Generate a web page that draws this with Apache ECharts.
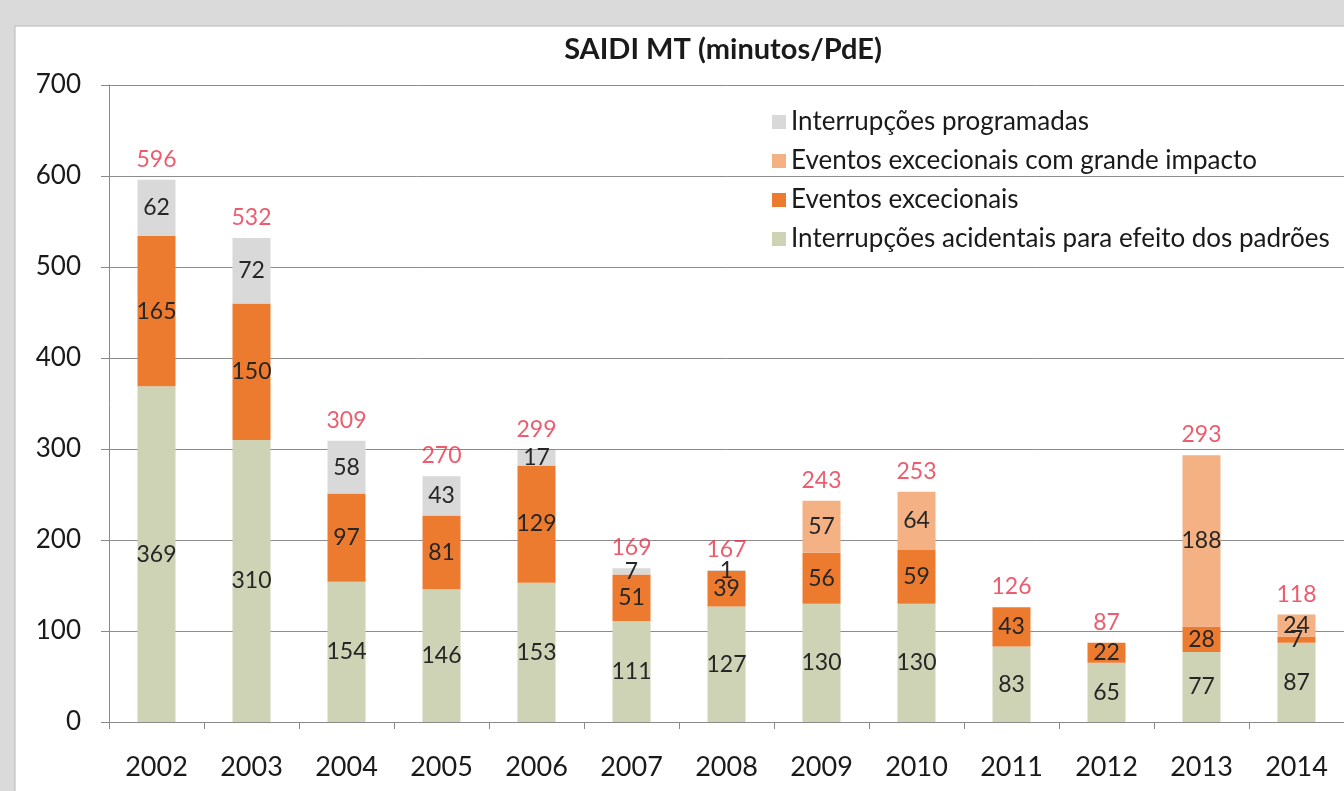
<!DOCTYPE html>
<html>
<head>
<meta charset="utf-8">
<script src="https://cdn.jsdelivr.net/npm/echarts@6/dist/echarts.min.js"></script>
<style>
html,body{margin:0;padding:0;background:#dadada;overflow:hidden;}
#c{width:1344px;height:791px;}
</style>
</head>
<body>
<div id="c"></div>
<script>
const years = ['2002','2003','2004','2005','2006','2007','2008','2009','2010','2011','2012','2013','2014'];
const acidentais = [369,310,154,146,153,111,127,130,130,83,65,77,87];
const excecionais = [165,150,97,81,129,51,39,56,59,43,22,28,7];
const grandeImpacto = [0,0,0,0,0,0,0,57,64,0,0,188,24];
const programadas = [62,72,58,43,17,7,1,0,0,0,0,0,0];
const totais = [596,532,309,270,299,169,167,243,253,126,87,293,118];
const yTicks = [0,100,200,300,400,500,600,700];

const FONT = 'Lato, "Open Sans", sans-serif';
const chart = echarts.init(document.getElementById('c'));
const lbl = {
  show: true, position: 'inside', fontSize: 23, color: '#262626', fontFamily: FONT,
  formatter: p => (p.value ? String(p.value) : '')
};
function barSeries(name, data, color) {
  return {
    name, type: 'bar', stack: 'total', data, barWidth: '40%',
    itemStyle: { color }, label: lbl, emphasis: { disabled: true }
  };
}
chart.setOption({
  animation: false,
  graphic: [{
    type: 'rect', z: -10, silent: true,
    shape: { x: 15, y: 26, width: 1345, height: 790 },
    style: { fill: '#ffffff', stroke: '#b8b8b8', lineWidth: 1 }
  }],
  title: {
    text: 'SAIDI MT (minutos/PdE)', left: 718, top: 30, textAlign: 'center',
    textStyle: { fontSize: 29, fontWeight: 'bold', color: '#1a1a1a', fontFamily: FONT }
  },
  legend: {
    data: ['Interrupções programadas', 'Eventos excecionais com grande impacto', 'Eventos excecionais', 'Interrupções acidentais para efeito dos padrões'],
    orient: 'vertical', left: 767, top: 104, itemWidth: 14, itemHeight: 14, itemGap: 13,
    icon: 'rect', selectedMode: false,
    textStyle: { fontSize: 26, color: '#1a1a1a', fontFamily: FONT, lineHeight: 26, padding: [0,0,0,0] }
  },
  grid: { left: 109, top: 85, width: 1238, height: 637, containLabel: false },
  xAxis: {
    type: 'category', data: years,
    axisLine: { lineStyle: { color: '#8a8a8a', width: 1 } },
    axisTick: { show: true, interval: 0, length: 7, lineStyle: { color: '#8a8a8a' } },
    axisLabel: { fontSize: 27, color: '#1a1a1a', fontFamily: FONT, margin: 32, interval: 0 }
  },
  yAxis: {
    type: 'value', min: yTicks[0], max: yTicks[yTicks.length - 1], interval: 100,
    axisLine: { show: true, lineStyle: { color: '#8a8a8a' } },
    axisTick: { show: true, length: 8, lineStyle: { color: '#8a8a8a' } },
    splitLine: { lineStyle: { color: '#8c8c8c', width: 1 } },
    axisLabel: { fontSize: 26, color: '#1a1a1a', fontFamily: FONT, margin: 28 }
  },
  series: [
    barSeries('Interrupções acidentais para efeito dos padrões', acidentais, '#cdd3b4'),
    barSeries('Eventos excecionais', excecionais, '#ec7b30'),
    barSeries('Eventos excecionais com grande impacto', grandeImpacto, '#f4b183'),
    barSeries('Interrupções programadas', programadas, '#d9d9d9'),
    {
      name: 'Total', type: 'scatter', data: totais, symbolSize: 2,
      itemStyle: { color: 'rgba(0,0,0,0)' }, silent: true, z: 5,
      label: { show: true, position: 'top', distance: 8, fontSize: 23, color: '#e8334a', fontFamily: FONT, formatter: p => String(p.value) }
    }
  ]
});
</script>
</body>
</html>
